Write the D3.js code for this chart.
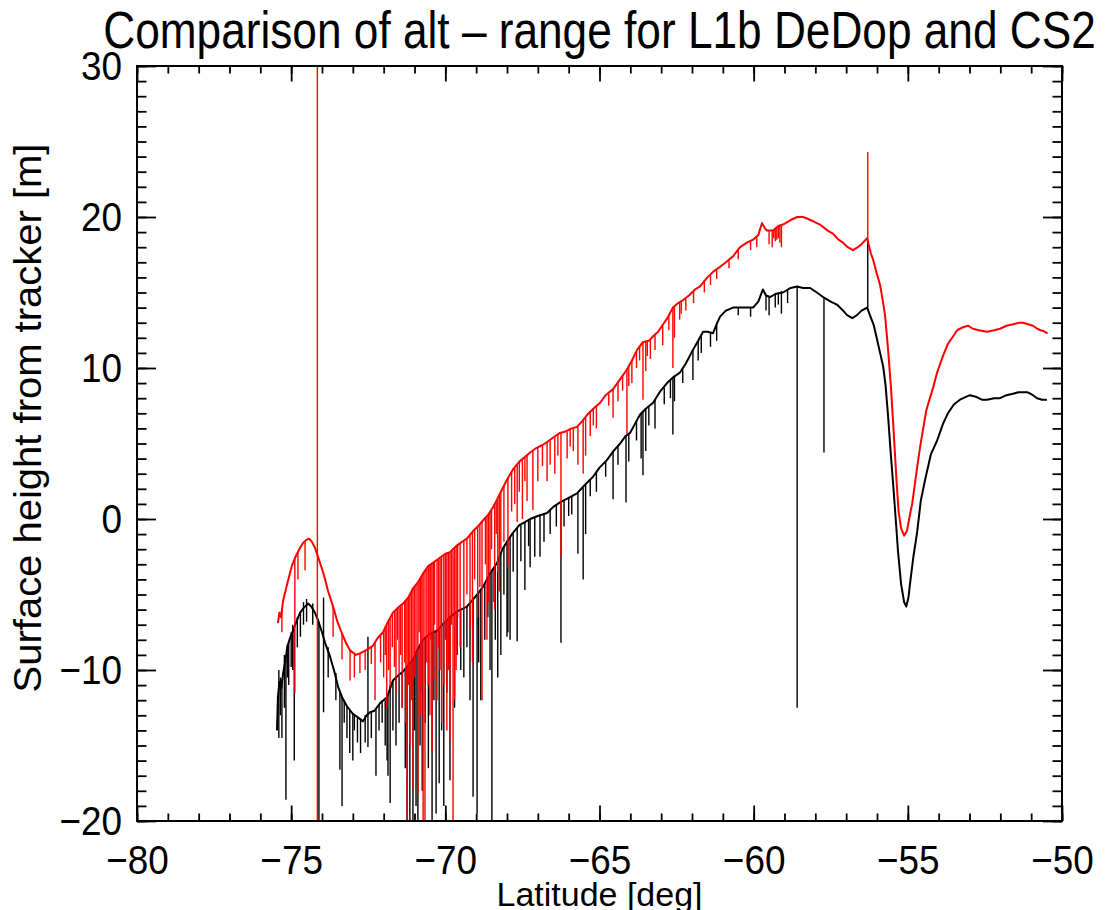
<!DOCTYPE html>
<html>
<head>
<meta charset="utf-8">
<script src="https://cdn.jsdelivr.net/npm/d3@7"></script>
<style>
  body { margin: 0; background: #fff; }
  text { font-family: "Liberation Sans", Arial, Helvetica, sans-serif; fill: #000; }
</style>
</head>
<body>
<svg id="chart" width="1107" height="910"></svg>
<script>
// axis ticks
var xTicks = [-80, -75, -70, -65, -60, -55, -50];
var yTicks = [-20, -10, 0, 10, 20, 30];

// DeDop (red) track, [latitude, height]
var dedopTrack = [[-75.43,-6.9],[-75.38,-6.2],[-75.33,-6.5],[-75.26,-5.4],[-75.2,-4.9],[-75.13,-4.3],[-75.04,-3.6],[-74.96,-3.0],[-74.88,-2.6],[-74.81,-2.3],[-74.71,-1.9],[-74.62,-1.6],[-74.52,-1.4],[-74.42,-1.3],[-74.33,-1.5],[-74.23,-1.9],[-74.13,-2.5],[-74.0,-3.3],[-73.9,-4.0],[-73.8,-4.8],[-73.64,-5.8],[-73.5,-6.8],[-73.35,-7.6],[-73.2,-8.3],[-73.09,-8.7],[-72.9,-9.0],[-72.77,-8.9],[-72.67,-8.8],[-72.5,-8.6],[-72.35,-8.4],[-72.2,-7.9],[-72.02,-7.5],[-71.86,-6.8],[-71.7,-6.2],[-71.55,-5.9],[-71.37,-5.6],[-71.2,-5.2],[-71.05,-4.6],[-70.89,-4.2],[-70.72,-3.6],[-70.55,-3.1],[-70.4,-2.9],[-70.2,-2.6],[-70.0,-2.3],[-69.85,-2.2],[-69.65,-1.8],[-69.45,-1.5],[-69.3,-1.3],[-69.1,-0.8],[-68.95,-0.5],[-68.78,-0.1],[-68.6,0.3],[-68.45,0.8],[-68.32,1.3],[-68.15,2.0],[-68.0,2.6],[-67.8,3.3],[-67.6,3.8],[-67.42,4.1],[-67.25,4.4],[-67.05,4.7],[-66.85,4.9],[-66.7,5.1],[-66.5,5.4],[-66.28,5.7],[-66.1,5.8],[-65.9,6.0],[-65.73,6.1],[-65.55,6.5],[-65.4,6.9],[-65.2,7.3],[-64.98,7.7],[-64.8,8.2],[-64.56,8.6],[-64.35,9.2],[-64.11,9.9],[-63.95,10.5],[-63.78,11.2],[-63.6,11.7],[-63.4,11.8],[-63.26,12.1],[-63.1,12.4],[-62.97,12.8],[-62.8,13.3],[-62.62,14.0],[-62.45,14.3],[-62.29,14.5],[-62.1,14.8],[-61.9,15.2],[-61.74,15.4],[-61.5,16.0],[-61.3,16.4],[-61.09,16.7],[-60.9,17.0],[-60.67,17.4],[-60.44,18.0],[-60.22,18.3],[-60.02,18.5],[-59.85,18.8],[-59.73,19.6],[-59.65,19.3],[-59.57,19.1],[-59.37,19.1],[-59.2,19.4],[-59.05,19.5],[-58.8,19.8],[-58.59,20.0],[-58.4,20.0],[-58.27,19.9],[-58.05,19.7],[-57.85,19.5],[-57.6,19.1],[-57.43,18.9],[-57.25,18.5],[-57.1,18.3],[-56.95,18.0],[-56.78,17.8],[-56.62,18.0],[-56.5,18.2],[-56.32,18.6],[-56.2,17.6],[-56.13,17.2],[-56.0,16.2],[-55.9,15.5],[-55.8,14.3],[-55.74,13.5],[-55.64,11.2],[-55.55,8.8],[-55.48,6.5],[-55.42,4.4],[-55.36,2.3],[-55.3,0.5],[-55.22,-0.6],[-55.12,-1.1],[-55.03,-0.8],[-54.93,0.3],[-54.86,1.0],[-54.78,2.2],[-54.7,3.4],[-54.6,4.8],[-54.51,5.9],[-54.4,7.2],[-54.3,7.9],[-54.18,8.7],[-54.05,9.7],[-53.86,10.8],[-53.7,11.6],[-53.53,12.1],[-53.4,12.5],[-53.21,12.7],[-53.05,12.8],[-52.89,12.6],[-52.7,12.5],[-52.43,12.4],[-52.2,12.5],[-52.01,12.6],[-51.8,12.8],[-51.59,12.9],[-51.4,13.0],[-51.26,13.0],[-51.1,12.9],[-50.94,12.8],[-50.8,12.6],[-50.7,12.5],[-50.6,12.45],[-50.47,12.3]];

// CS2 (black) track, [latitude, height]
var cs2Track = [[-75.46,-14.0],[-75.43,-11.8],[-75.38,-10.8],[-75.32,-11.2],[-75.26,-10.2],[-75.18,-9.3],[-75.13,-8.5],[-75.04,-7.9],[-74.94,-7.4],[-74.85,-6.9],[-74.71,-6.2],[-74.6,-5.9],[-74.45,-5.6],[-74.35,-5.8],[-74.23,-6.2],[-74.13,-6.7],[-74.0,-7.5],[-73.9,-8.2],[-73.74,-9.1],[-73.6,-10.1],[-73.48,-11.1],[-73.35,-11.8],[-73.19,-12.4],[-73.0,-12.9],[-72.86,-13.1],[-72.67,-13.4],[-72.55,-13.0],[-72.44,-12.8],[-72.3,-12.7],[-72.12,-12.2],[-71.89,-11.8],[-71.7,-10.7],[-71.55,-10.4],[-71.37,-10.1],[-71.2,-9.7],[-71.05,-9.3],[-70.89,-8.6],[-70.72,-8.0],[-70.5,-7.6],[-70.27,-7.4],[-70.05,-6.9],[-69.85,-6.5],[-69.6,-6.1],[-69.3,-5.8],[-69.05,-5.2],[-68.78,-4.5],[-68.55,-3.6],[-68.32,-2.9],[-68.15,-2.0],[-67.97,-1.4],[-67.8,-0.9],[-67.6,-0.4],[-67.42,-0.2],[-67.25,0.0],[-67.0,0.2],[-66.7,0.4],[-66.5,0.8],[-66.28,1.1],[-66.0,1.4],[-65.73,1.7],[-65.5,2.2],[-65.21,2.8],[-65.0,3.4],[-64.76,3.9],[-64.55,4.5],[-64.33,5.0],[-64.15,5.5],[-64.01,5.7],[-63.85,6.3],[-63.69,6.9],[-63.5,7.3],[-63.26,7.7],[-63.05,8.4],[-62.81,9.0],[-62.6,9.4],[-62.39,9.7],[-62.2,10.3],[-61.97,11.2],[-61.8,11.8],[-61.64,12.4],[-61.5,12.4],[-61.32,12.3],[-61.2,12.9],[-61.09,13.4],[-60.9,13.8],[-60.67,14.0],[-60.44,14.0],[-60.22,14.0],[-60.02,14.0],[-59.85,14.4],[-59.7,15.2],[-59.6,14.8],[-59.47,14.7],[-59.3,14.9],[-59.05,15.0],[-58.8,15.3],[-58.59,15.4],[-58.4,15.3],[-58.17,15.3],[-57.95,15.0],[-57.75,14.7],[-57.5,14.4],[-57.3,14.2],[-57.1,13.8],[-56.97,13.5],[-56.8,13.3],[-56.65,13.5],[-56.5,13.8],[-56.32,14.0],[-56.23,13.5],[-56.1,12.8],[-56.0,11.9],[-55.9,11.0],[-55.8,10.1],[-55.72,8.8],[-55.64,6.8],[-55.56,4.5],[-55.48,2.4],[-55.4,0.2],[-55.32,-2.1],[-55.22,-4.3],[-55.12,-5.5],[-55.05,-5.8],[-54.98,-5.2],[-54.93,-4.3],[-54.82,-2.5],[-54.7,-0.9],[-54.58,1.2],[-54.44,2.6],[-54.25,4.3],[-54.05,5.2],[-53.86,6.3],[-53.7,7.0],[-53.5,7.6],[-53.31,7.9],[-53.1,8.1],[-52.98,8.2],[-52.8,8.1],[-52.6,7.9],[-52.43,7.9],[-52.2,8.0],[-52.01,8.0],[-51.8,8.2],[-51.59,8.3],[-51.4,8.4],[-51.13,8.4],[-50.94,8.2],[-50.81,8.0],[-50.65,7.9],[-50.49,7.9]];

// outliers, [latitude, from, to]
var dedopSpikes = [[-75.3,-6.0,-7.5],[-74.88,-2.6,-11.5],[-74.78,-2.2,-4.0],[-74.55,-1.5,-3.4],[-74.15,31,-21],[-73.64,-5.8,-7.8],[-73.35,-7.6,-9.3],[-73.09,-8.7,-10.7],[-72.95,-9.0,-10.5],[-72.77,-8.9,-10.2],[-72.6,-8.7,-10.0],[-72.4,-8.4,-9.6],[-72.28,-8.2,-12.0],[-72.1,-7.7,-9.5],[-72.0,-7.4,-10.5],[-71.95,-7.3,-9.0],[-71.9,-7.0,-12.5],[-71.84,-6.8,-10.0],[-71.79,-6.6,-11.1],[-71.72,-6.3,-8.5],[-71.65,-6.1,-9.8],[-71.6,-6.0,-11.5],[-71.55,-5.9,-8.0],[-71.5,-5.9,-10.5],[-71.45,-5.8,-9.0],[-71.4,-5.7,-12.5],[-71.32,-5.5,-9.5],[-71.28,-5.4,-13.5],[-71.24,-5.3,-21],[-71.19,-5.2,-11.0],[-71.15,-5.0,-15.0],[-71.1,-4.8,-12.0],[-71.05,-4.6,-17.8],[-71.0,-4.5,-10.5],[-70.95,-4.4,-9.0],[-70.89,-4.2,-18.3],[-70.85,-4.0,-7.5],[-70.8,-3.9,-13.0],[-70.76,-3.8,-11.5],[-70.72,-3.6,-21],[-70.66,-3.4,-21],[-70.6,-3.3,-9.5],[-70.55,-3.1,-11.0],[-70.5,-3.0,-13.0],[-70.47,-3.0,-8.0],[-70.43,-2.9,-15.5],[-70.38,-2.9,-10.5],[-70.35,-2.8,-7.0],[-70.27,-2.7,-12.0],[-70.22,-2.65,-8.5],[-70.17,-2.6,-10.0],[-70.12,-2.5,-13.5],[-70.05,-2.4,-11.0],[-70.0,-2.3,-8.0],[-69.95,-2.3,-14.0],[-69.9,-2.25,-10.0],[-69.85,-2.2,-14.6],[-69.8,-2.2,-7.0],[-69.75,-2.1,-21],[-69.7,-2.0,-12.0],[-69.65,-1.8,-10.0],[-69.6,-1.7,-6.5],[-69.52,-1.6,-8.5],[-69.4,-1.4,-6.0],[-69.3,-1.3,-5.0],[-69.2,-1.0,-7.2],[-69.12,-0.9,-9.5],[-69.05,-0.7,-4.0],[-68.95,-0.5,-6.5],[-68.88,-0.4,-4.5],[-68.81,-0.2,-12.0],[-68.7,0.1,-3.0],[-68.65,0.2,-8.0],[-68.6,0.3,-5.5],[-68.55,0.4,-3.5],[-68.5,0.6,-2.0],[-68.4,0.9,-6.0],[-68.35,1.1,-1.0],[-68.3,1.3,-3.5],[-68.25,1.6,-4.8],[-68.2,1.8,-2.0],[-68.1,2.2,-1.5],[-67.97,2.7,-3.2],[-67.85,3.1,0.5],[-67.75,3.4,1.0],[-67.67,3.6,-0.2],[-67.6,3.8,1.8],[-67.5,3.9,0.0],[-67.42,4.1,2.5],[-67.35,4.2,1.2],[-67.16,4.5,0.6],[-67.0,4.7,2.5],[-66.85,4.9,3.5],[-66.7,5.1,2.5],[-66.6,5.2,3.6],[-66.45,5.4,3.0],[-66.35,5.6,4.2],[-66.25,5.7,-2.5],[-66.05,5.8,4.0],[-65.95,5.9,4.8],[-65.85,6.0,4.5],[-65.7,6.1,3.6],[-65.53,6.5,3.0],[-65.45,6.7,4.2],[-65.3,7.1,5.5],[-65.2,7.3,6.2],[-65.1,7.5,6.0],[-64.7,8.3,7.5],[-64.56,8.6,6.7],[-64.4,9.0,7.8],[-64.25,9.5,8.5],[-64.11,9.9,5.6],[-64.05,10.1,8.8],[-63.95,10.5,9.0],[-63.8,11.1,10.0],[-63.7,11.5,10.5],[-63.59,11.7,7.9],[-63.5,11.8,9.8],[-63.45,11.8,10.8],[-63.35,11.9,10.6],[-63.2,12.2,11.2],[-62.95,12.8,11.5],[-62.75,13.4,12.5],[-62.62,14.0,10.0],[-62.57,14.1,12.0],[-62.4,14.3,13.2],[-62.35,14.4,13.6],[-62.2,14.6,13.8],[-61.95,15.1,14.3],[-61.6,15.8,15.0],[-61.4,16.2,15.5],[-61.2,16.5,15.9],[-60.8,17.2,16.6],[-60.5,17.8,17.2],[-60.1,18.4,17.8],[-59.9,18.7,18.0],[-59.5,19.1,18.2],[-59.4,19.1,18.0],[-59.35,19.1,18.6],[-59.3,19.2,18.4],[-59.25,19.3,18.5],[-59.2,19.4,18.6],[-59.15,19.4,18.3],[-59.1,19.5,18.0],[-56.3,24.3,18.4]];

var cs2Spikes = [[-75.4,-10.0,-14.5],[-75.35,-10.5,-13.0],[-75.3,-10.6,-14.5],[-75.22,-9.0,-12.5],[-75.17,-9.3,-18.6],[-75.12,-8.3,-10.5],[-75.08,-8.1,-11.0],[-75.0,-7.5,-9.8],[-74.95,-7.0,-10.0],[-74.9,-7.2,-16.0],[-74.8,-6.5,-8.5],[-74.7,-6.2,-7.8],[-74.6,-5.5,-7.0],[-74.5,-5.3,-6.8],[-74.3,-5.6,-7.0],[-74.1,-6.8,-21],[-73.95,-5.2,-12.8],[-73.8,-8.5,-10.5],[-73.55,-10.2,-12.0],[-73.42,-11.5,-16.6],[-73.35,-11.8,-19.0],[-73.28,-12.0,-13.5],[-73.19,-12.4,-14.5],[-73.1,-12.6,-15.5],[-73.0,-12.9,-16.0],[-72.95,-13.0,-14.0],[-72.85,-13.1,-14.8],[-72.75,-13.2,-15.5],[-72.6,-13.0,-14.8],[-72.51,-7.8,-15.1],[-72.4,-12.8,-14.5],[-72.25,-12.6,-17.0],[-72.15,-12.3,-14.0],[-72.05,-12.0,-13.5],[-71.95,-12.0,-15.0],[-71.89,-11.8,-16.0],[-71.86,-11.6,-17.0],[-71.79,-11.0,-18.8],[-71.7,-10.7,-14.0],[-71.6,-10.5,-15.0],[-71.5,-10.3,-13.5],[-71.4,-10.1,-12.5],[-71.3,-9.9,-16.5],[-71.24,-9.8,-21],[-71.15,-9.6,-21],[-71.05,-9.3,-21],[-71.0,-9.1,-14.0],[-70.95,-8.9,-19.0],[-70.89,-8.6,-21],[-70.82,-8.4,-15.0],[-70.75,-8.1,-18.0],[-70.65,-7.9,-13.5],[-70.55,-7.7,-16.5],[-70.43,-7.5,-21],[-70.37,-7.5,-12.0],[-70.3,-7.4,-19.5],[-70.2,-7.3,-17.5],[-70.12,-7.1,-14.0],[-70.05,-6.9,-19.0],[-69.95,-6.7,-11.5],[-69.85,-6.5,-17.3],[-69.7,-6.3,-12.5],[-69.62,-6.1,-9.0],[-69.5,-6.0,-10.0],[-69.4,-5.9,-10.5],[-69.3,-5.8,-8.5],[-69.2,-5.5,-12.0],[-69.1,-5.3,-18.4],[-68.97,-5.0,-19.5],[-68.92,-4.8,-9.5],[-68.85,-4.7,-12.0],[-68.72,-4.3,-8.0],[-68.62,-3.9,-6.5],[-68.55,-3.6,-10.0],[-68.49,-3.4,-21],[-68.42,-3.3,-5.5],[-68.38,-3.1,-8.0],[-68.3,-2.8,-10.5],[-68.2,-2.2,-9.0],[-68.1,-1.8,-5.0],[-68.0,-1.5,-7.8],[-67.97,-1.4,-7.5],[-67.9,-1.2,-8.0],[-67.8,-0.9,-3.5],[-67.67,-0.6,-8.1],[-67.55,-0.35,-2.8],[-67.42,-0.2,-4.7],[-67.3,-0.05,-1.8],[-67.25,0.0,-3.2],[-67.1,0.1,-2.5],[-66.93,0.3,-2.5],[-66.8,0.35,-1.5],[-66.6,0.6,-1.0],[-66.4,0.9,-0.5],[-66.25,1.1,-8.2],[-66.15,1.2,-0.5],[-66.0,1.4,0.2],[-65.9,1.5,0.3],[-65.7,1.7,-2.3],[-65.53,2.1,-4.0],[-65.45,2.3,-1.0],[-65.3,2.6,1.5],[-65.1,3.1,1.8],[-64.8,3.8,2.8],[-64.56,4.5,1.3],[-64.4,4.8,3.6],[-64.14,5.5,1.1],[-64.05,5.6,3.8],[-63.8,6.5,5.2],[-63.65,7.0,4.0],[-63.59,7.1,2.9],[-63.5,7.3,4.5],[-63.4,7.4,6.2],[-63.2,7.9,6.0],[-62.9,8.7,7.6],[-62.7,9.2,8.0],[-62.62,9.4,5.6],[-62.57,9.5,7.8],[-62.3,9.9,9.0],[-61.97,11.2,9.2],[-61.8,11.8,10.5],[-61.7,12.1,11.0],[-61.4,12.3,11.4],[-61.2,12.9,11.8],[-60.5,14.0,13.5],[-60.1,14.0,13.4],[-59.6,14.8,13.8],[-59.5,14.7,13.5],[-59.3,14.9,14.0],[-59.2,15.0,14.2],[-59.1,15.1,13.6],[-58.9,15.2,14.3],[-58.59,15.4,-12.5],[-57.72,14.6,4.4],[-56.3,18.5,14.0]];

var svg = d3.select("#chart");
var margin = {top: 66, right: 45, bottom: 89, left: 137},
    width = +svg.attr("width") - margin.left - margin.right,
    height = +svg.attr("height") - margin.top - margin.bottom;

var x = d3.scaleLinear().domain([-80, -50]).range([0, width]);
var y = d3.scaleLinear().domain([-20, 30]).range([height, 0]);

var g = svg.append("g").attr("transform", "translate(" + margin.left + "," + margin.top + ")");

g.append("clipPath").attr("id", "clip")
  .append("rect").attr("width", width).attr("height", height);

var plot = g.append("g").attr("clip-path", "url(#clip)");

var line = d3.line().x(function(d) { return x(d[0]); }).y(function(d) { return y(d[1]); });

function drawSeries(track, spikes, colour) {
    plot.append("path").datum(track)
        .attr("d", line)
        .attr("fill", "none")
        .attr("stroke", colour)
        .attr("stroke-width", 2)
        .attr("stroke-linejoin", "round");
    plot.append("g").selectAll("line")
        .data(spikes)
        .enter().append("line")
        .attr("x1", function(d) { return x(d[0]); })
        .attr("x2", function(d) { return x(d[0]); })
        .attr("y1", function(d) { return y(d[1]); })
        .attr("y2", function(d) { return y(d[2]); })
        .attr("stroke", colour)
        .attr("stroke-width", 1.4);
}
drawSeries(cs2Track, cs2Spikes, "#000");
drawSeries(dedopTrack, dedopSpikes, "#ff0000");

// ticks point inward on all four sides (IDL style)
var xMajor = 15.5, xMinor = 7.5, yMajor = 19, yMinor = 9.5;

function styleAxis(sel) {
    sel.select(".domain").remove();
    sel.selectAll("line").attr("stroke", "#000").attr("stroke-width", 1.8);
}

g.append("g").attr("transform", "translate(0," + height + ")")
  .call(d3.axisBottom(x).tickValues(x.ticks(30)).tickSize(-xMinor).tickFormat(""))
  .call(styleAxis);
g.append("g")
  .call(d3.axisTop(x).tickValues(x.ticks(30)).tickSize(-xMinor).tickFormat(""))
  .call(styleAxis);
g.append("g")
  .call(d3.axisLeft(y).tickValues(y.ticks(50)).tickSize(-yMinor).tickFormat(""))
  .call(styleAxis);
g.append("g").attr("transform", "translate(" + width + ",0)")
  .call(d3.axisRight(y).tickValues(y.ticks(50)).tickSize(-yMinor).tickFormat(""))
  .call(styleAxis);

var xAxis = g.append("g").attr("transform", "translate(0," + height + ")")
  .call(d3.axisBottom(x).tickValues(xTicks).tickSize(-xMajor).tickPadding(24))
  .call(styleAxis);
xAxis.selectAll("text")
  .attr("font-size", 41)
  .attr("font-family", "Liberation Sans, Arial, sans-serif")
  .attr("transform", "scale(0.9,1)");
g.append("g")
  .call(d3.axisTop(x).tickValues(xTicks).tickSize(-xMajor).tickFormat(""))
  .call(styleAxis);

var yAxis = g.append("g")
  .call(d3.axisLeft(y).tickValues(yTicks).tickSize(-yMajor).tickPadding(16.7))
  .call(styleAxis);
yAxis.selectAll("text")
  .attr("font-size", 41)
  .attr("font-family", "Liberation Sans, Arial, sans-serif")
  .attr("transform", "scale(0.9,1)");
g.append("g").attr("transform", "translate(" + width + ",0)")
  .call(d3.axisRight(y).tickValues(yTicks).tickSize(-yMajor).tickFormat(""))
  .call(styleAxis);

// frame
g.append("rect")
  .attr("width", width).attr("height", height)
  .attr("fill", "none").attr("stroke", "#000").attr("stroke-width", 2);

// titles
svg.append("text")
  .attr("transform", "translate(" + (margin.left + width / 2) + ",48) scale(0.85,1)")
  .attr("text-anchor", "middle")
  .attr("font-size", 52)
  .text("Comparison of alt \u2013 range for L1b DeDop and CS2");

svg.append("text")
  .attr("transform", "translate(" + (margin.left + width / 2) + ",906)")
  .attr("text-anchor", "middle")
  .attr("font-size", 34)
  .text("Latitude [deg]");

svg.append("text")
  .attr("transform", "translate(41,418) scale(0.95,1) rotate(-90)")
  .attr("text-anchor", "middle")
  .attr("font-size", 40)
  .text("Surface height from tracker [m]");
</script>
</body>
</html>
